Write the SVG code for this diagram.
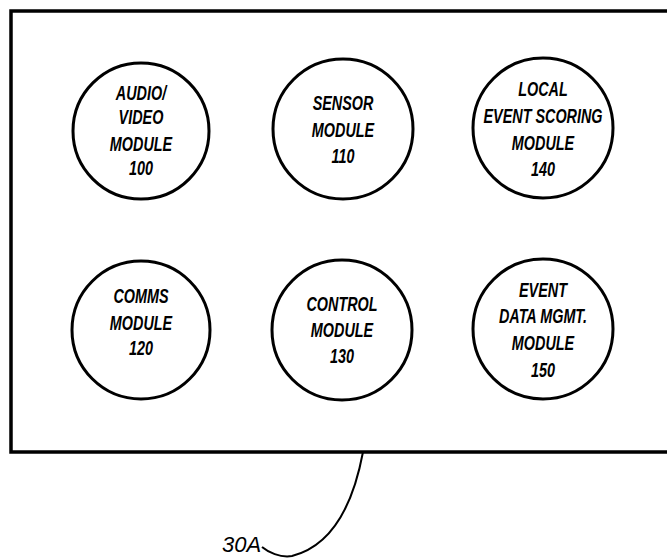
<svg xmlns="http://www.w3.org/2000/svg" width="667" height="558" viewBox="0 0 667 558">
<style>
.frame{fill:none;stroke:#000;stroke-width:3.5}
.node circle{fill:#fff;stroke:#000;stroke-width:3}
.node text{font-family:"Liberation Sans",Arial,sans-serif;font-style:italic;font-weight:bold;font-size:20px;text-anchor:middle;fill:#000}
.lead{fill:none;stroke:#000;stroke-width:2}
.label{font-family:"Liberation Sans",Arial,sans-serif;font-style:italic;font-size:22px;fill:#000}
</style>
<rect width="667" height="558" fill="#fff"/>
<rect class="frame" x="11" y="11" width="670" height="441"/>
<g id="n100" class="node">
<circle cx="141" cy="131" r="68"/>
<text transform="translate(141 0) scale(0.72 1)"><tspan x="0" y="100">AUDIO/</tspan><tspan x="0" y="124">VIDEO</tspan><tspan x="0" y="151">MODULE</tspan><tspan x="0" y="175">100</tspan></text>
</g>
<g id="n110" class="node">
<circle cx="343" cy="129" r="70"/>
<text transform="translate(343 0) scale(0.72 1)"><tspan x="0" y="110">SENSOR</tspan><tspan x="0" y="137">MODULE</tspan><tspan x="0" y="163">110</tspan></text>
</g>
<g id="n140" class="node">
<circle cx="543" cy="128" r="70"/>
<text transform="translate(543 0) scale(0.72 1)"><tspan x="0" y="96">LOCAL</tspan><tspan x="0" y="123">EVENT SCORING</tspan><tspan x="0" y="150">MODULE</tspan><tspan x="0" y="176">140</tspan></text>
</g>
<g id="n120" class="node">
<circle cx="141" cy="330" r="69"/>
<text transform="translate(141 0) scale(0.72 1)"><tspan x="0" y="303">COMMS</tspan><tspan x="0" y="330">MODULE</tspan><tspan x="0" y="355">120</tspan></text>
</g>
<g id="n130" class="node">
<circle cx="342" cy="330" r="70"/>
<text transform="translate(342 0) scale(0.72 1)"><tspan x="0" y="311">CONTROL</tspan><tspan x="0" y="337">MODULE</tspan><tspan x="0" y="363">130</tspan></text>
</g>
<g id="n150" class="node">
<circle cx="543" cy="329" r="70"/>
<text transform="translate(543 0) scale(0.72 1)"><tspan x="0" y="297">EVENT</tspan><tspan x="0" y="323">DATA MGMT.</tspan><tspan x="0" y="350">MODULE</tspan><tspan x="0" y="377">150</tspan></text>
</g>
<g id="connectors">
<path class="lead" d="M363,452 C354,500 335,545 292,556 C280,558 268,552 262,547"/>
</g>
<g id="label30A">
<text class="label" x="222" y="552">30A</text>
</g>
</svg>
